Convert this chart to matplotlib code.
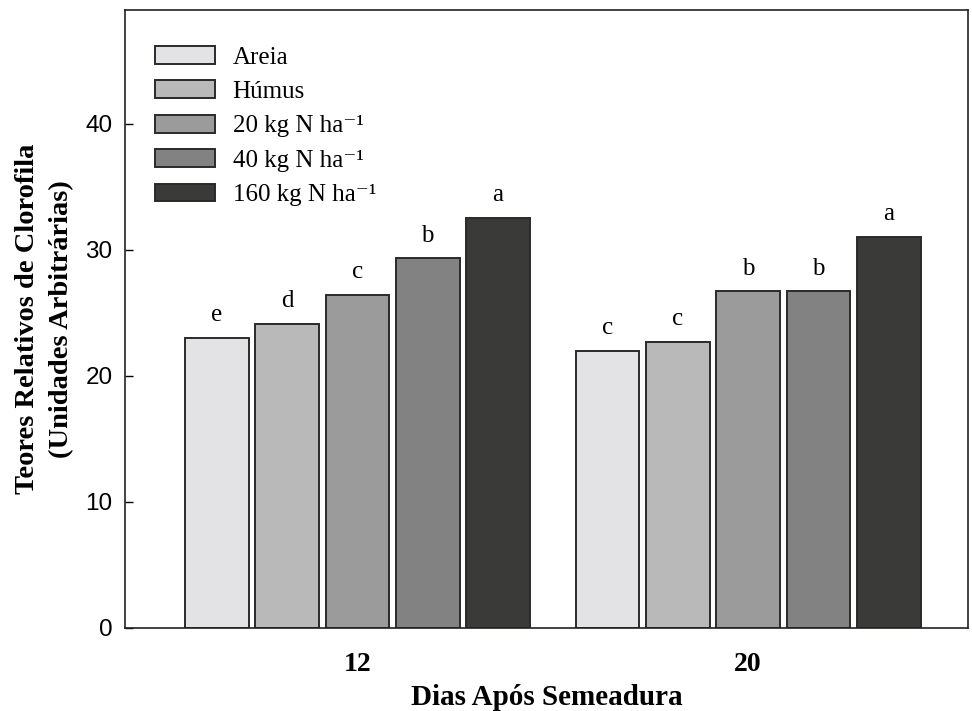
import matplotlib
matplotlib.use("Agg")
import matplotlib.pyplot as plt
import numpy as np

groups = ["12", "20"]
series = ["Areia", "Húmus", "20 kg N ha⁻¹", "40 kg N ha⁻¹", "160 kg N ha⁻¹"]
areia = [23.0, 22.0]
humus = [24.1, 22.7]
n20 = [26.4, 26.7]
n40 = [29.3, 26.7]
n160 = [32.5, 31.0]
letters_areia = ["e", "c"]
letters_humus = ["d", "c"]
letters_n20 = ["c", "b"]
letters_n40 = ["b", "b"]
letters_n160 = ["a", "a"]
yticks = [0, 10, 20, 30, 40]

values = [areia, humus, n20, n40, n160]
letters = [letters_areia, letters_humus, letters_n20, letters_n40, letters_n160]
colors = ["#e3e3e5", "#b9b9b9", "#9a9b9a", "#818281", "#3a3a39"]

serif = ["Liberation Serif", "DejaVu Serif"]
sans = ["Liberation Sans", "DejaVu Sans"]

fig = plt.figure(figsize=(9.72, 7.11), dpi=100)
ax = fig.add_axes([125/972, 1-628/711, (968-125)/972, (628-10)/711])

x = np.arange(len(groups))
pitch = 0.18
width = 0.163
for i, (vals, lets, col, lab) in enumerate(zip(values, letters, colors, series)):
    pos = x + (i - 2) * pitch
    bars = ax.bar(pos, vals, width, color=col, edgecolor="#2a2a2a", linewidth=1.4, label=lab)
    for b, l in zip(bars, lets):
        ax.annotate(l, (b.get_x() + b.get_width()/2, b.get_height()), xytext=(0, 12),
                    textcoords="offset points", ha="center", va="baseline",
                    fontsize=18, family=serif)

ax.set_xlim(-0.595, 1.563)
ax.set_ylim(0, 49)
ax.set_yticks(yticks)
ax.set_yticklabels([str(t) for t in yticks], fontsize=17.5, family=sans)
ax.tick_params(axis="y", direction="in", length=6, width=1, pad=9)
ax.set_xticks(x)
ax.set_xticklabels(groups, fontsize=20, family=serif, fontweight="bold")
ax.tick_params(axis="x", length=0, pad=17)
for s in ax.spines.values():
    s.set_linewidth(1.2)
    s.set_color("#222222")

ax.set_xlabel("Dias Após Semeadura", fontsize=21, family=serif, fontweight="bold", labelpad=5)
ax.set_ylabel("Teores Relativos de Clorofila\n(Unidades Arbitrárias)", fontsize=20.5,
              family=serif, fontweight="bold", labelpad=8, linespacing=1.5)

leg = ax.legend(loc="upper left", bbox_to_anchor=(30/843, 1 - 36/618), frameon=False,
                prop={"family": serif, "size": 18}, handlelength=2.4, handleheight=0.72,
                labelspacing=0.47, handletextpad=0.7, borderaxespad=0, borderpad=0)

fig.savefig("out.png", dpi=100)
